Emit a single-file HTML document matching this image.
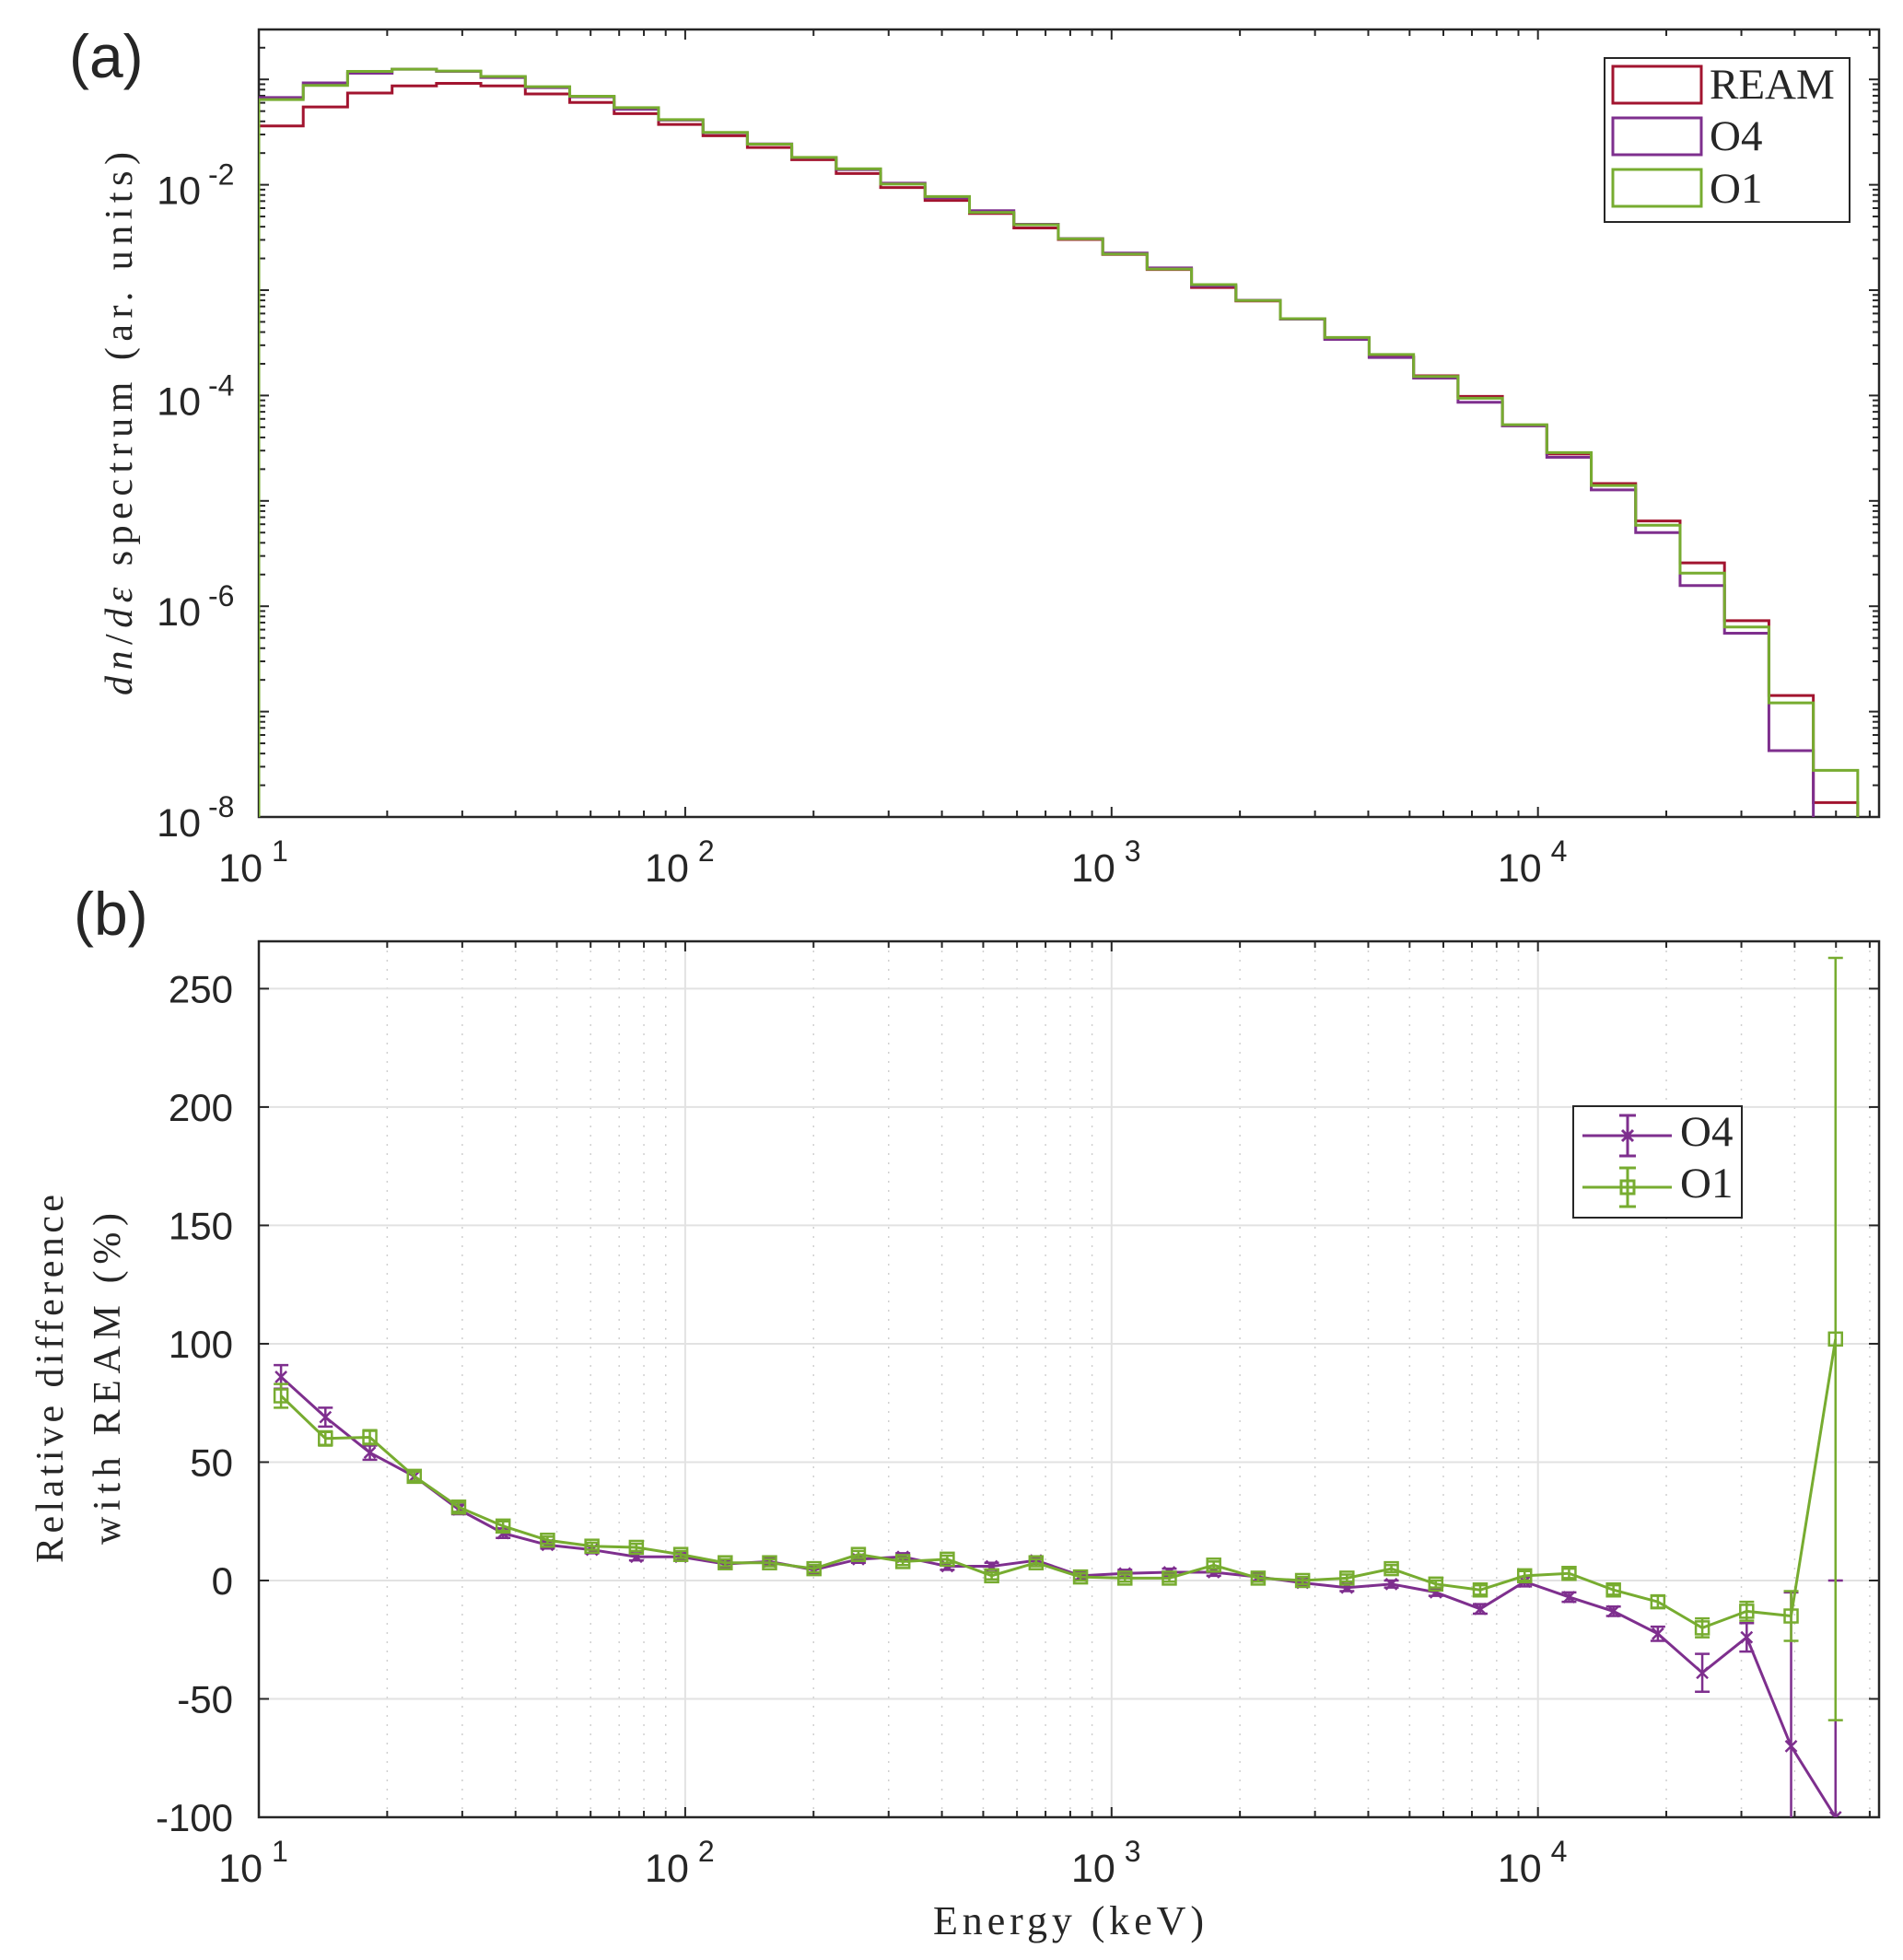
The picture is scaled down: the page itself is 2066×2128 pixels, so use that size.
<!DOCTYPE html>
<html><head><meta charset="utf-8"><style>
html,body{margin:0;padding:0;background:#fff;}
svg{display:block;}
.tk{font-family:"Liberation Sans",Arial,sans-serif;fill:#262626;}
.ser{font-family:"Liberation Serif","DejaVu Serif",serif;fill:#262626;}
</style></head><body>
<svg id="fig" width="2066" height="2128" viewBox="0 0 2066 2128" xmlns="http://www.w3.org/2000/svg">
<defs>
<clipPath id="clipA"><rect x="281" y="32" width="1759" height="855"/></clipPath>
<clipPath id="clipB"><rect x="281" y="1022" width="1759" height="951"/></clipPath>
</defs>
<rect x="0" y="0" width="2066" height="2128" fill="#fff"/>
<g id="gridB"></g>
<g id="axA"></g>
<g id="axB"></g>
<g id="seriesA" clip-path="url(#clipA)"></g>
<g id="seriesB" clip-path="url(#clipB)"></g>
<g id="labels"></g>
<text x="75" y="84" class="tk" font-size="66">(a)</text>
<text x="80" y="1015" class="tk" font-size="66">(b)</text>
<text class="ser" font-size="42" transform="translate(143,460) rotate(-90)" text-anchor="middle" textLength="590"><tspan font-style="italic">dn</tspan>/<tspan font-style="italic">dε</tspan> spectrum (ar. units)</text>
<text class="ser" font-size="42" transform="translate(68,1497) rotate(-90)" text-anchor="middle" textLength="400">Relative difference</text>
<text class="ser" font-size="42" transform="translate(130,1497) rotate(-90)" text-anchor="middle" textLength="360">with REAM (%)</text>
<text class="ser" x="1160" y="2100" font-size="44" text-anchor="middle" textLength="294">Energy (keV)</text>
<g id="legendA">
<rect x="1742" y="63" width="266" height="178" fill="#fff" stroke="#262626" stroke-width="2"/>
<rect x="1751" y="72" width="96" height="40" fill="none" stroke="#A2142F" stroke-width="3"/>
<text class="ser" x="1856" y="107" font-size="47" fill="#000">REAM</text>
<rect x="1751" y="128" width="96" height="40" fill="none" stroke="#7E2F8E" stroke-width="3"/>
<text class="ser" x="1856" y="163" font-size="47" fill="#000">O4</text>
<rect x="1751" y="184" width="96" height="40" fill="none" stroke="#77AC30" stroke-width="3"/>
<text class="ser" x="1856" y="220" font-size="47" fill="#000">O1</text>
</g>
<g id="legendB">
<rect x="1708" y="1201" width="183" height="121" fill="#fff" stroke="#262626" stroke-width="2"/>
<g stroke="#7E2F8E" stroke-width="3" fill="none">
<line x1="1718" y1="1233" x2="1815" y2="1233"/><line x1="1767" y1="1211" x2="1767" y2="1255"/>
<line x1="1758" y1="1211" x2="1776" y2="1211"/><line x1="1758" y1="1255" x2="1776" y2="1255"/>
<path d="M1761 1227 L1773 1239 M1773 1227 L1761 1239"/>
</g>
<text class="ser" x="1824" y="1244" font-size="47" fill="#000">O4</text>
<g stroke="#77AC30" stroke-width="3" fill="none">
<line x1="1718" y1="1289" x2="1815" y2="1289"/><line x1="1767" y1="1268" x2="1767" y2="1310"/>
<line x1="1758" y1="1268" x2="1776" y2="1268"/><line x1="1758" y1="1310" x2="1776" y2="1310"/>
<rect x="1760" y="1282" width="14" height="14"/>
</g>
<text class="ser" x="1824" y="1300" font-size="47" fill="#000">O1</text>
</g>
</svg>
<script>
const binEdges=[10,12.71,16.15,20.54,26.10,33.17,42.17,53.60,68.13,86.60,110.1,139.9,177.8,226.0,287.3,365.2,464.2,590.0,750.0,953.3,1211.5,1539.9,1957.4,2488,3162,4019,5109,6494,8254,10492,13335,16950,21544,27384,34807,44243,56234];
const ream=[0.0362,0.0548,0.0743,0.0868,0.0917,0.0868,0.0728,0.0604,0.0474,0.0374,0.0292,0.0226,0.0173,0.0128,0.00941,0.0071,0.00535,0.00389,0.00303,0.00218,0.00157,0.00106,0.00079,0.000536,0.000352,0.000233,0.000154,9.8e-5,5.18e-5,2.79e-5,1.46e-5,6.45e-6,2.58e-6,7.3e-7,1.42e-7,1.37e-8];
const o4=[0.0673,0.0926,0.1144,0.125,0.1192,0.1042,0.0837,0.0683,0.0521,0.0411,0.0312,0.0244,0.0181,0.01395,0.01035,0.00753,0.00567,0.00422,0.00309,0.00225,0.001625,0.001097,0.000802,0.000531,0.000341,0.0002295,0.0001463,8.62e-5,5.15e-5,2.59e-5,1.27e-5,5.0e-6,1.57e-6,5.55e-7,4.26e-8,0];
const o1=[0.0644,0.0877,0.1193,0.125,0.1201,0.1068,0.0852,0.0692,0.054,0.0415,0.0314,0.0243,0.0182,0.0142,0.01016,0.00774,0.00546,0.00418,0.003075,0.0022,0.001586,0.001129,0.000798,0.000536,0.000356,0.000245,0.0001517,9.41e-5,5.28e-5,2.87e-5,1.40e-5,5.87e-6,2.06e-6,6.35e-7,1.21e-7,2.77e-8];
const diffO4=[86,69,54,44,30,20,15,13,10,10,7,8,4.5,9,10,6,6,8.5,2,3,3.5,3.5,1.5,-1,-3,-1.5,-5,-12,-0.5,-7,-13,-22.5,-39,-24,-70,-100];
const errO4=[5,4,3,2,2,2,1.5,1.5,1.5,1.5,1.5,1.5,1.5,1.5,1.5,1.5,1.5,1.5,1.5,1.5,1.5,1.5,1.5,1.5,1.5,1.5,1.5,2,2,2,2,3,8,6,65,100];
const diffO1=[78,60,60.5,44,31,23,17,14.5,14,11,7.5,7.5,5,11,8,9,2,7.5,1.5,1,1,6.5,1,0,1,5,-1.5,-4,2,3,-4,-9,-20,-13,-15,102];
const errO1=[5,3,3,2,2,2,1.5,1.5,1.5,1.5,1.5,1.5,1.5,1.5,1.5,1.5,1.5,1.5,1.5,1.5,1.5,1.5,1.5,1.5,1.5,1.5,1.5,2,2,2,2,2.5,4,4,10.5,161];
const yTickExpA=[-8,-6,-4,-2];
const xTickExp=[1,2,3,4];
const yTickB=[-100,-50,0,50,100,150,200,250];

const NS='http://www.w3.org/2000/svg';
const AX={l:281,r:2040},TA={t:32,b:887},TB={t:1022,b:1973};
const LX0=1,LX1=4.80,LY0=-8,LY1=-0.526,YB0=-100,YB1=270;
function X(e){return AX.l+(Math.log10(e)-LX0)/(LX1-LX0)*(AX.r-AX.l);}
function YA(v){if(v<=0)return TA.b+20;return TA.b-(Math.log10(v)-LY0)/(LY1-LY0)*(TA.b-TA.t);}
function YB(v){return TB.b-(v-YB0)/(YB1-YB0)*(TB.b-TB.t);}
function mk(tag,attrs,parent){const e=document.createElementNS(NS,tag);for(const k in attrs)e.setAttribute(k,attrs[k]);parent.appendChild(e);return e;}
const gA=document.getElementById('axA'),gB=document.getElementById('axB'),gG=document.getElementById('gridB'),gL=document.getElementById('labels');
const sA=document.getElementById('seriesA'),sB=document.getElementById('seriesB');

// Grid for panel b
for(let d=1;d<=4;d++){for(let m=1;m<=9;m++){const e=m*Math.pow(10,d);const x=X(e);if(x<=AX.l||x>=AX.r)continue;
const ln=mk('line',{x1:x,x2:x,y1:TB.t,y2:TB.b,stroke:m===1?'#e2e2e2':'#d0d0d0','stroke-width':m===1?2:1.5,'stroke-dasharray':m===1?'':'2 8'},gG);

}}
yTickB.forEach(v=>{const y=YB(v);const ln=mk('line',{x1:AX.l,x2:AX.r,y1:y,y2:y,stroke:'#e2e2e2','stroke-width':2},gG);

});

function axesBox(g,T){
const r=mk('rect',{x:AX.l,y:T.t,width:AX.r-AX.l,height:T.b-T.t,fill:'none',stroke:'#262626','stroke-width':2.5},g);


for(let d=1;d<=4;d++){for(let m=1;m<=9;m++){const x=X(m*Math.pow(10,d));if(x<AX.l-1||x>AX.r)continue;const len=m===1?11:7;
mk('line',{x1:x,x2:x,y1:T.b,y2:T.b-len,stroke:'#262626','stroke-width':2},g);
mk('line',{x1:x,x2:x,y1:T.t,y2:T.t+len,stroke:'#262626','stroke-width':2},g);}}
xTickExp.forEach(p=>{const x=X(Math.pow(10,p));
const t=mk('text',{x:x+4,y:T.b+70,'font-size':43,'text-anchor':'end',class:'tk'},gL);t.textContent='10';


const s=mk('text',{x:x+14,y:T.b+48,'font-size':32,class:'tk'},gL);s.textContent=String(p);

});
}
axesBox(gA,TA);axesBox(gB,TB);
// panel a y ticks
for(let d=-8;d<=-1;d++){for(let m=1;m<=9;m++){const v=m*Math.pow(10,d);const y=YA(v);if(y<TA.t||y>TA.b)continue;const len=m===1?11:7;
mk('line',{x1:AX.l,x2:AX.l+len,y1:y,y2:y,stroke:'#262626','stroke-width':2},gA);
mk('line',{x1:AX.r,x2:AX.r-len,y1:y,y2:y,stroke:'#262626','stroke-width':2},gA);}}
yTickExpA.forEach(p=>{const y=YA(Math.pow(10,p));
const t=mk('text',{x:218,y:y+21,'font-size':43,'text-anchor':'end',class:'tk'},gL);t.textContent='10';


const s=mk('text',{x:226,y:y,'font-size':32,class:'tk'},gL);s.textContent=String(p);

});
// panel b y ticks
yTickB.forEach(v=>{const y=YB(v);
mk('line',{x1:AX.l,x2:AX.l+11,y1:y,y2:y,stroke:'#262626','stroke-width':2},gB);
mk('line',{x1:AX.r,x2:AX.r-11,y1:y,y2:y,stroke:'#262626','stroke-width':2},gB);
const t=mk('text',{x:253,y:y+15,'font-size':42,'text-anchor':'end',class:'tk'},gL);t.textContent=String(v);

});

// Stairs
function stairs(vals,color,name){let d='M'+X(binEdges[0])+' '+(TA.b+20);
for(let i=0;i<vals.length;i++){const y=YA(vals[i]);d+=' L'+X(binEdges[i])+' '+y+' L'+X(binEdges[i+1])+' '+y;}
d+=' L'+X(binEdges[vals.length])+' '+(TA.b+20);
const p=mk('path',{d:d,fill:'none',stroke:color,'stroke-width':3},sA);

}
stairs(ream,'#A2142F','stairs-ream');stairs(o4,'#7E2F8E','stairs-o4');stairs(o1,'#77AC30','stairs-o1');

// Difference lines with error bars
function series(vals,errs,color,marker,name){
const xs=vals.map((v,i)=>X(Math.sqrt(binEdges[i]*binEdges[i+1])));
const g=mk('g',{stroke:color,'stroke-width':3,fill:'none'},sB);


mk('polyline',{points:xs.map((x,i)=>x+','+YB(vals[i])).join(' ')},g);
vals.forEach((v,i)=>{const x=xs[i],y=YB(v),y1=YB(v+errs[i]),y2=YB(v-errs[i]);
const eb=mk('path',{d:`M${x} ${y1} L${x} ${y2} M${x-8} ${y1} L${x+8} ${y1} M${x-8} ${y2} L${x+8} ${y2}`,'stroke-width':2.5},g);


let m;
if(marker==='x'){m=mk('path',{d:`M${x-6} ${y-6} L${x+6} ${y+6} M${x+6} ${y-6} L${x-6} ${y+6}`,'stroke-width':2.5},g);}
else{m=mk('rect',{x:x-7,y:y-7,width:14,height:14,'stroke-width':2.5},g);}

});}
series(diffO4,errO4,'#7E2F8E','x','diff-o4');
series(diffO1,errO1,'#77AC30','s','diff-o1');
</script>
</body></html>
